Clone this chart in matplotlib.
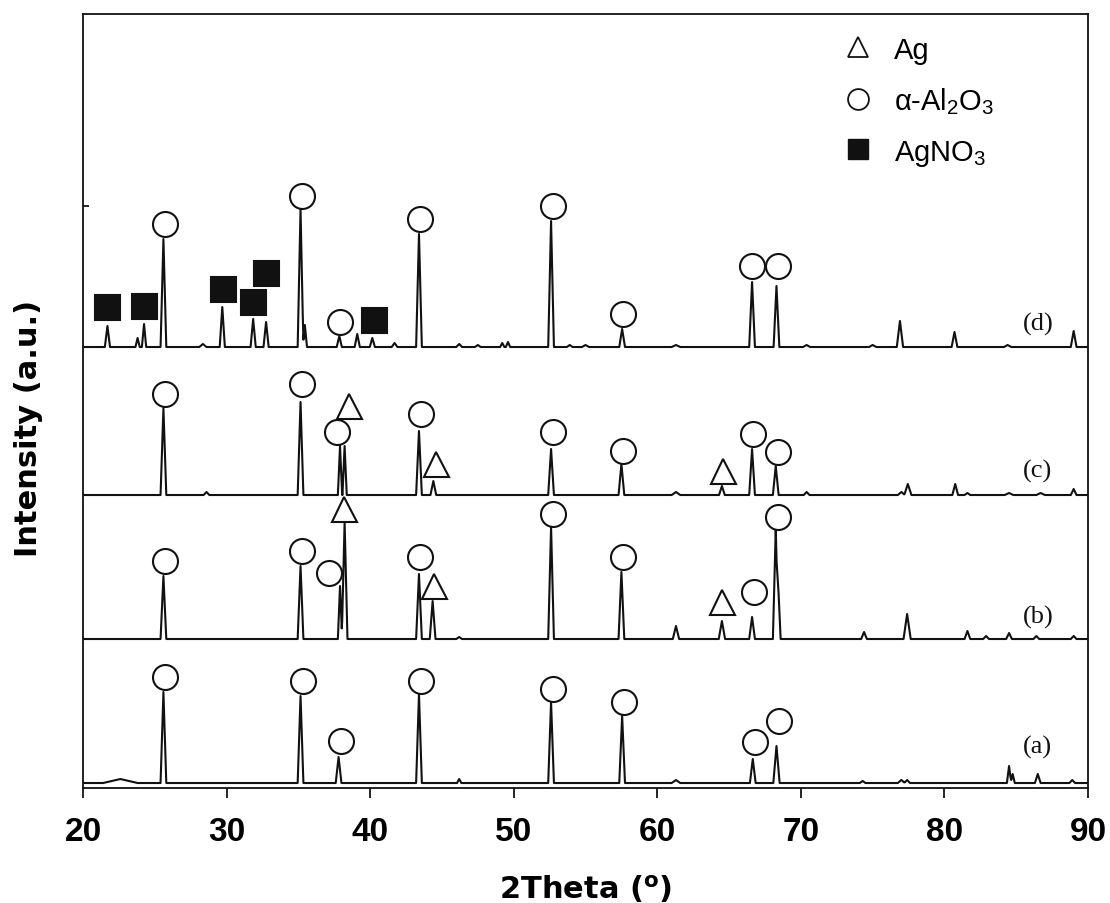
import numpy as np
import matplotlib.pyplot as plt
from matplotlib.lines import Line2D

plt.rcParams['mathtext.fontset'] = 'custom'
plt.rcParams['mathtext.rm'] = 'Liberation Sans'
plt.rcParams['mathtext.it'] = 'Liberation Sans:italic'
plt.rcParams['mathtext.bf'] = 'DejaVu Sans:bold'

# XRD peaks: position (2theta), height above the pattern's baseline, half base width
a_pos = [22.6, 25.6, 35.15, 37.8, 43.4, 46.2, 52.6, 57.55, 61.3, 66.65, 68.3, 74.3, 77.0, 77.4, 84.5, 84.75, 86.5, 88.9]
a_hgt = [4, 91, 87, 26, 89, 4, 81, 67, 3, 24, 37, 2, 3, 3, 17, 9, 9, 3]
a_wid = [1.2, 0.2, 0.2, 0.2, 0.2, 0.15, 0.2, 0.2, 0.3, 0.2, 0.22, 0.2, 0.25, 0.2, 0.15, 0.15, 0.2, 0.2]

b_pos = [25.6, 35.15, 37.9, 38.22, 43.4, 44.35, 46.2, 52.6, 57.5, 61.3, 64.5, 66.6, 68.25, 68.45, 74.4, 77.4, 81.6, 82.9, 84.5, 86.4, 89.0]
b_hgt = [63, 73, 53, 117, 65, 38, 2, 112, 67, 13, 18, 22, 110, 45, 7, 25, 8, 3, 6, 3, 3]
b_wid = [0.2, 0.2, 0.15, 0.2, 0.2, 0.2, 0.2, 0.2, 0.2, 0.22, 0.22, 0.2, 0.2, 0.14, 0.2, 0.25, 0.2, 0.2, 0.2, 0.2, 0.2]

c_pos = [25.6, 28.6, 35.15, 37.9, 38.22, 43.4, 44.4, 52.6, 57.5, 61.3, 64.5, 66.6, 68.25, 70.4, 77.0, 77.45, 80.75, 81.6, 84.5, 86.7, 89.0]
c_hgt = [87, 3, 93, 49, 49, 64, 14, 46, 31, 3, 9, 46, 29, 3, 3, 11, 11, 2, 2, 2, 6]
c_wid = [0.2, 0.2, 0.2, 0.15, 0.15, 0.2, 0.2, 0.2, 0.2, 0.3, 0.2, 0.2, 0.2, 0.2, 0.25, 0.25, 0.2, 0.2, 0.3, 0.3, 0.2]

d_pos = [21.7, 23.8, 24.25, 25.6, 28.35, 29.7, 31.85, 32.75, 35.15, 35.45, 37.85, 39.1, 40.15, 41.7, 43.4, 46.2,
         47.5, 49.2, 49.6, 52.6, 53.9, 55.0, 57.55, 61.3, 66.6, 68.3, 70.4, 75.0, 76.9, 80.7, 84.4, 89.0]
d_hgt = [21, 9, 23, 108, 3, 40, 28, 25, 138, 22, 11, 13, 9, 4, 113, 3,
         2, 4, 5, 126, 2, 2, 18, 2, 65, 61, 2, 2, 26, 15, 2, 16]
d_wid = [0.18, 0.15, 0.15, 0.2, 0.25, 0.18, 0.18, 0.18, 0.2, 0.15, 0.18, 0.18, 0.18, 0.2, 0.2, 0.2,
         0.2, 0.15, 0.15, 0.2, 0.2, 0.25, 0.2, 0.3, 0.2, 0.2, 0.25, 0.25, 0.22, 0.2, 0.25, 0.2]

# vertical offsets of the stacked patterns
offsets = {'a': 5, 'b': 149, 'c': 293, 'd': 441}

# phase markers: x and height above baseline
a_circ_x = [25.7, 35.3, 38.0, 43.55, 52.7, 57.65, 66.8, 68.45]
a_circ_y = [106, 102, 42, 102, 94, 81, 41, 62]

b_circ_x = [25.7, 35.25, 37.1, 43.5, 52.7, 57.6, 66.7, 68.4]
b_circ_y = [78, 88, 66, 82, 125, 82, 47, 122]
b_tri_x = [38.2, 44.45, 64.5]
b_tri_y = [130, 53, 37]

c_circ_x = [25.7, 35.25, 37.7, 43.55, 52.75, 57.6, 66.65, 68.4]
c_circ_y = [101, 111, 63, 81, 63, 44, 61, 43]
c_tri_x = [38.5, 44.6, 64.55]
c_tri_y = [89, 31, 24]

d_circ_x = [25.7, 35.25, 37.9, 43.5, 52.7, 57.6, 66.6, 68.4]
d_circ_y = [123, 151, 25, 128, 141, 33, 81, 81]
d_sq_x = [21.67, 24.25, 29.75, 31.85, 32.75, 40.3]
d_sq_y = [40, 41, 58, 45, 74, 27]

labels = ['(a)', '(b)', '(c)', '(d)']
label_y = [42, 172, 318, 465]


def pattern(pos, hgt, wid, base):
    pos, hgt, wid = map(np.asarray, (pos, hgt, wid))
    xs = np.concatenate([[20.0, 90.0], pos - wid, pos, pos + wid])
    xs = np.unique(np.clip(xs, 20, 90))
    ys = np.full(xs.shape, float(base))
    for p, h, w in zip(pos, hgt, wid):
        ys += np.interp(xs, [p - w, p, p + w], [0, h, 0])
    return xs, ys


fig = plt.figure(figsize=(11.1, 9.04), dpi=100)
ax = fig.add_axes([0.0748, 0.1272, 0.9054, 0.8562])

ink = '#111111'
for key, pos, hgt, wid in [('a', a_pos, a_hgt, a_wid), ('b', b_pos, b_hgt, b_wid),
                           ('c', c_pos, c_hgt, c_wid), ('d', d_pos, d_hgt, d_wid)]:
    xs, ys = pattern(pos, hgt, wid, offsets[key])
    ax.plot(xs, ys, color=ink, lw=1.5, solid_joinstyle='round')

mk = dict(ls='none', color=ink, markersize=18, markeredgewidth=1.5, clip_on=False)
for key, cx, cy in [('a', a_circ_x, a_circ_y), ('b', b_circ_x, b_circ_y),
                    ('c', c_circ_x, c_circ_y), ('d', d_circ_x, d_circ_y)]:
    ax.plot(cx, np.asarray(cy) + offsets[key], marker='o', markerfacecolor='white', **mk)
for key, tx, ty in [('b', b_tri_x, b_tri_y), ('c', c_tri_x, c_tri_y)]:
    ax.plot(tx, np.asarray(ty) + offsets[key], marker='^', markerfacecolor='white', **mk)
ax.plot(d_sq_x, np.asarray(d_sq_y) + offsets['d'], marker='s', markerfacecolor=ink, **mk)

for lab, y in zip(labels, label_y):
    ax.text(86.5, y, lab, ha='center', va='center', fontsize=19,
            family='Liberation Serif', color=ink)

handles = [
    Line2D([], [], ls='none', marker='^', markersize=15, markerfacecolor='white',
           markeredgecolor=ink, markeredgewidth=1.3),
    Line2D([], [], ls='none', marker='o', markersize=15, markerfacecolor='white',
           markeredgecolor=ink, markeredgewidth=1.3),
    Line2D([], [], ls='none', marker='s', markersize=14, markerfacecolor=ink,
           markeredgecolor=ink),
]
ax.legend(handles, ['Ag', r'$\mathregular{\alpha}$-Al$_2$O$_3$', 'AgNO$_3$'],
          loc='upper left', bbox_to_anchor=(0.7567, 0.972), frameon=False,
          prop={'family': 'Liberation Sans', 'size': 21}, handlelength=1.0,
          handletextpad=0.72, borderpad=0, borderaxespad=0, labelspacing=0.74)

ax.set_xlim(20, 90)
ax.set_ylim(0, 774)
ax.set_xticks(np.arange(20, 91, 10))
ax.set_yticks([582])
ax.set_yticklabels([])
ax.tick_params(axis='x', direction='out', length=7, width=1.2, pad=13)
ax.tick_params(axis='y', direction='in', length=4, width=1.2)
for lbl in ax.get_xticklabels():
    lbl.set_fontfamily('Liberation Sans')
    lbl.set_fontweight('bold')
    lbl.set_fontsize(24)
for s in ax.spines.values():
    s.set_linewidth(1.3)
    s.set_color(ink)

ax.set_xlabel(r'2Theta ($^{\mathbf{o}}$)', fontsize=22, fontweight='bold',
              family='DejaVu Sans', labelpad=18)
ax.set_ylabel('Intensity (a.u.)', fontsize=22, fontweight='bold', family='DejaVu Sans')
ax.yaxis.set_label_coords(-0.040, 0.466)

fig.savefig('out.png', dpi=100)
